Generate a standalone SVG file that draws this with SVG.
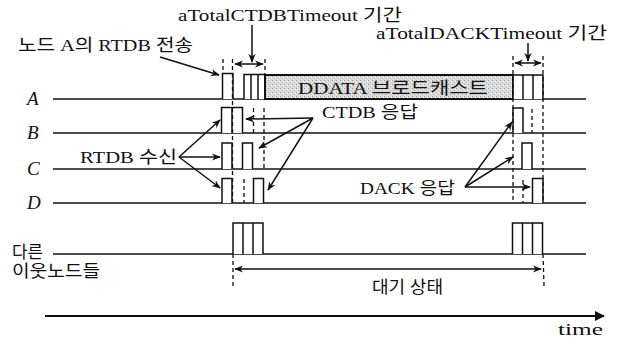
<svg xmlns="http://www.w3.org/2000/svg" width="619" height="349" viewBox="0 0 619 349">
<style>
.t{font-family:"Liberation Serif","Noto Sans CJK KR",serif;font-size:17px;fill:#111}
.row{font-family:"Liberation Serif",serif;font-size:19px;font-style:italic;fill:#111}
.ln{stroke:#111;stroke-width:1.6;fill:none}
.p{stroke:#111;stroke-width:1.5;fill:#fff}
.d{stroke:#111;stroke-width:1.3;stroke-dasharray:4 3;fill:none}
.ar{stroke:#111;stroke-width:1.5;fill:none;marker-end:url(#ah)}
.dar{stroke:#111;stroke-width:1.5;fill:none;marker-end:url(#ah);marker-start:url(#ah)}
</style>
<defs>
<marker id="ah" viewBox="0 0 10 10" refX="9" refY="5" markerWidth="9" markerHeight="9" markerUnits="userSpaceOnUse" orient="auto-start-reverse">
<path d="M0,1 L10,5 L0,9 L3,5 z" fill="#111"/>
</marker>
<marker id="big" viewBox="0 0 10 10" refX="9" refY="5" markerWidth="12" markerHeight="10" markerUnits="userSpaceOnUse" orient="auto">
<path d="M0,0 L10,5 L0,10 z" fill="#111"/>
</marker>
<pattern id="stip" width="4" height="4" patternUnits="userSpaceOnUse">
<rect width="4" height="4" fill="#dcdcdc"/>
<rect x="0" y="0" width="1" height="1" fill="#9a9a9a"/>
<rect x="2" y="2" width="1" height="1" fill="#b0b0b0"/>
<rect x="3" y="1" width="1" height="1" fill="#f4f4f4"/>
</pattern>
</defs>
<rect width="619" height="349" fill="#fff"/>

<g id="labels">
<text class="t" x="18" y="51" textLength="175" lengthAdjust="spacingAndGlyphs">노드 A의 RTDB 전송</text>
<text class="t" x="178" y="21" textLength="224" lengthAdjust="spacingAndGlyphs">aTotalCTDBTimeout 기간</text>
<text class="t" x="376" y="39" textLength="231" lengthAdjust="spacingAndGlyphs">aTotalDACKTimeout 기간</text>
<text class="t" x="80" y="163" textLength="97" lengthAdjust="spacingAndGlyphs">RTDB 수신</text>
<text class="t" x="322" y="118" textLength="96" lengthAdjust="spacingAndGlyphs">CTDB 응답</text>
<text class="t" x="360" y="194" textLength="95" lengthAdjust="spacingAndGlyphs">DACK 응답</text>
<text class="t" x="12" y="258" textLength="31" lengthAdjust="spacingAndGlyphs">다른</text>
<text class="t" x="12" y="277" textLength="88" lengthAdjust="spacingAndGlyphs">이웃노드들</text>
<text class="t" x="372" y="293" textLength="71" lengthAdjust="spacingAndGlyphs">대기 상태</text>
<text class="t" x="558" y="335" textLength="45" lengthAdjust="spacingAndGlyphs">time</text>
</g>

<g id="node-A">
<text class="row" x="27" y="105">A</text>
<line class="ln" x1="53" y1="99" x2="586" y2="99"/>
<path class="p" d="M222.5 99 V73.5 H233 V99"/>
<path class="p" d="M244 99 V74.5 H265 V99 M251 74.5 V99 M258 74.5 V99"/>
<rect x="265" y="75" width="248" height="24" fill="url(#stip)" stroke="#111" stroke-width="2"/>
<text class="t" x="298" y="94" textLength="190" lengthAdjust="spacingAndGlyphs">DDATA 브로드캐스트</text>
<path class="p" d="M513 99 V75 H543 V99 M523 75 V99 M533 75 V99"/>
</g>

<g id="node-B">
<text class="row" x="27" y="139">B</text>
<line class="ln" x1="53" y1="133" x2="586" y2="133"/>
<path class="p" d="M221.5 133 V107.5 H242.5 V133 M232 107.5 V133"/>
<path class="p" d="M513 133 V108 H523 V133"/>
</g>

<g id="node-C">
<text class="row" x="27" y="175">C</text>
<line class="ln" x1="53" y1="169" x2="586" y2="169"/>
<path class="p" d="M222 169 V143 H232 V169"/>
<path class="p" d="M242.5 169 V143 H252.5 V169"/>
<path class="p" d="M522 169 V143 H532 V169"/>
</g>

<g id="node-D">
<text class="row" x="27" y="209">D</text>
<line class="ln" x1="53" y1="203" x2="586" y2="203"/>
<path class="p" d="M222 203 V178.5 H232 V203"/>
<path class="p" d="M253.5 203 V178.5 H263.5 V203"/>
<path class="p" d="M532.5 203 V178.5 H543 V203"/>
</g>

<g id="node-others">
<line class="ln" x1="53" y1="254" x2="586" y2="254"/>
<path class="p" d="M233 254 V223 H263 V254 M243 223 V254 M253 223 V254"/>
<path class="p" d="M512.5 254 V223 H542.5 V254 M522.5 223 V254 M532.5 223 V254"/>
</g>

<g id="time-axis">
<line x1="45" y1="316" x2="604" y2="316" stroke="#111" stroke-width="1.8" marker-end="url(#big)"/>
</g>

<g id="connectors">
<line class="d" x1="223" y1="59" x2="223" y2="73"/>
<line class="d" x1="232.5" y1="59" x2="232.5" y2="203"/>
<line class="d" x1="265" y1="59" x2="265" y2="74"/>
<line class="d" x1="253.5" y1="108" x2="253.5" y2="133"/>
<line class="d" x1="264" y1="108" x2="264" y2="169"/>
<line class="d" x1="244" y1="179" x2="244" y2="203"/>
<line class="d" x1="513" y1="56" x2="513" y2="203"/>
<line class="d" x1="543" y1="56" x2="543" y2="203"/>
<line class="d" x1="532" y1="109" x2="532" y2="133"/>
<line class="d" x1="523" y1="180" x2="523" y2="203"/>
<line class="d" x1="233" y1="254" x2="233" y2="286"/>
<line class="d" x1="543" y1="254" x2="544" y2="286"/>

<line class="dar" x1="235" y1="64" x2="263" y2="64"/>
<line class="ar" x1="252" y1="25" x2="252" y2="62"/>
<line class="dar" x1="515" y1="63" x2="541" y2="63"/>
<line class="ar" x1="528" y1="43" x2="528" y2="61"/>

<line class="ar" x1="160" y1="57" x2="219" y2="75"/>

<line class="ar" x1="179" y1="157" x2="220" y2="120"/>
<line class="ar" x1="179" y1="157" x2="220" y2="157"/>
<line class="ar" x1="179" y1="157" x2="220" y2="188"/>

<line class="ar" x1="313" y1="118" x2="246" y2="119"/>
<line class="ar" x1="313" y1="118" x2="259" y2="148"/>
<line class="ar" x1="313" y1="118" x2="268" y2="190"/>

<line class="ar" x1="465" y1="187" x2="512" y2="122"/>
<line class="ar" x1="465" y1="187" x2="513" y2="157"/>
<line class="ar" x1="465" y1="187" x2="530" y2="187"/>

<line class="dar" x1="235" y1="269" x2="541" y2="269"/>
</g>
</svg>
